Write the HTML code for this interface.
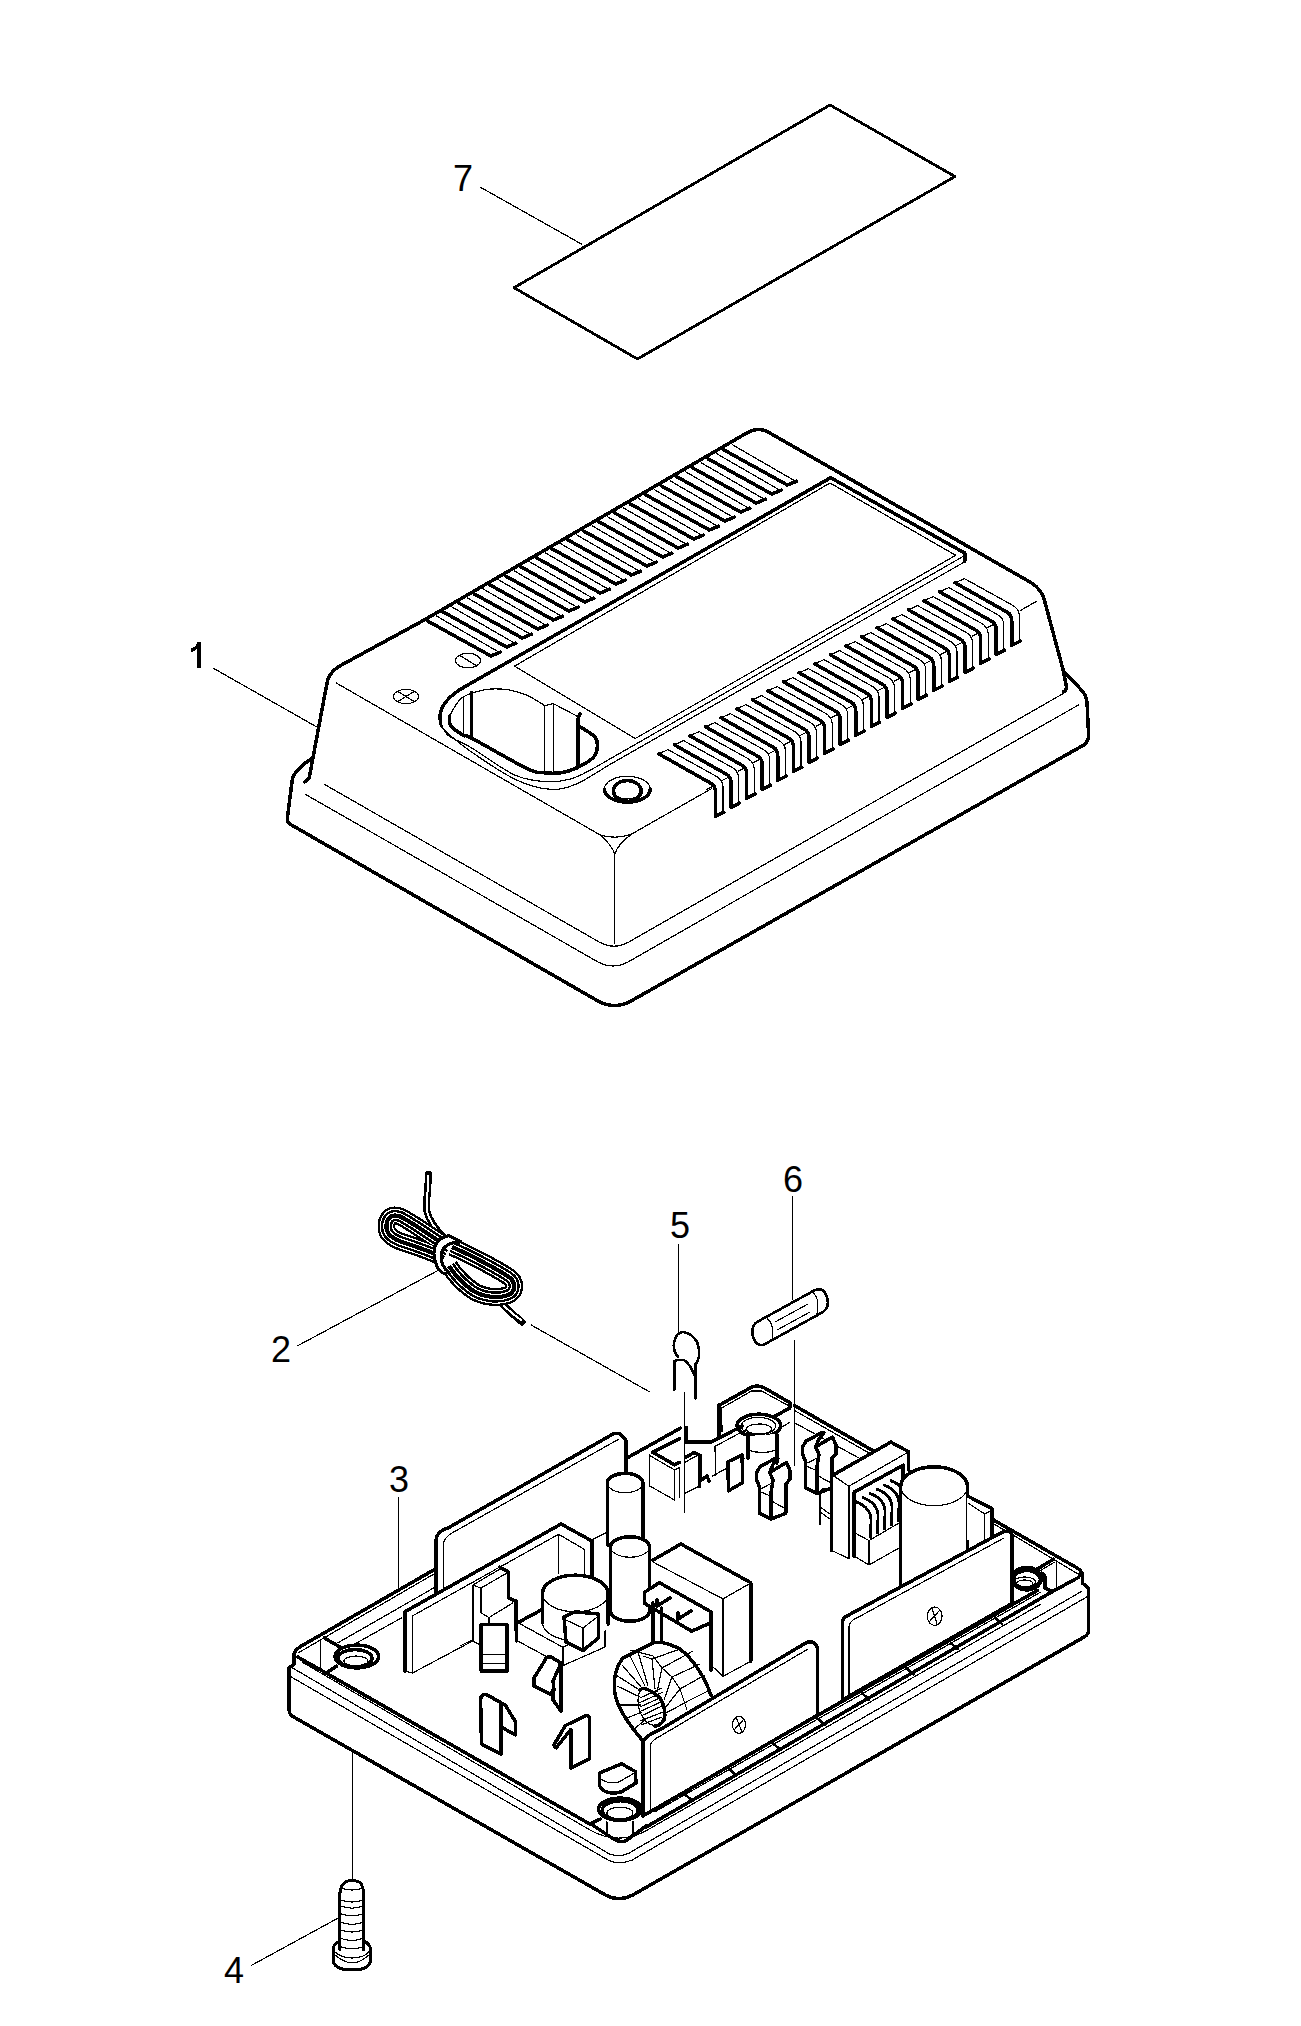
<!DOCTYPE html>
<html><head><meta charset="utf-8"><style>
html,body{margin:0;padding:0;background:#fff;}
svg{display:block;}
text{font-family:"Liberation Sans",sans-serif;fill:#000;stroke:none;}
</style></head><body>
<svg width="1301" height="2026" viewBox="0 0 1301 2026" stroke="#000" stroke-linecap="round" stroke-linejoin="round" shape-rendering="crispEdges">
<path d="M830,105 L955,176.5 L637.5,359 L514,287.7 Z" stroke-width="2.8" fill="none" stroke-linejoin="round"/>
<text x="453" y="191" font-size="36">7</text>
<line x1="480.0" y1="187.0" x2="581.4" y2="244.0" stroke-width="1.2"/>
<path d="M425.6,619.2 L339.2,666.3 Q328,673 326.7,684.6 L309.2,778 L304.6,782" stroke-width="3.5" fill="none" />
<path d="M425.6,619.2 L747.6,432.5 Q759,426 770.7,433.5 L1031,582.6 Q1041,589 1044,598.7 L1062.8,668.7 L1066.5,687 Q1066,691 1063.3,691.9" stroke-width="3.5" fill="none" />
<path d="M311,759 Q297,768 292.5,778 L287.3,818.4 Q287,823 292,825.3 L598,1001 Q614.7,1010 631,1001 L1083.8,745 Q1088.6,741 1088.6,735 L1087,702 Q1086,695 1081.6,690.2 L1063.3,670.9" stroke-width="3.5" fill="none" />
<path d="M324.2,784.2 L600,942.5 Q614,950 628,942.5 L1063.3,693.5" stroke-width="1.2" fill="none" />
<path d="M305.2,794.2 L598,962 Q613.3,970 628,962 L1078.4,705" stroke-width="1.2" fill="none" />
<path d="M336.3,683 L599.7,834.7 Q615.7,840 631.7,834 L711.6,788.6" stroke-width="1.2" fill="none" />
<line x1="1020.3" y1="610.6" x2="1037.0" y2="601.0" stroke-width="1.2"/>
<path d="M599.7,834.7 Q612,845 614.8,854.4 Q617,845 631.7,834" stroke-width="1.2" fill="none" />
<line x1="614.6" y1="854.0" x2="614.6" y2="943.5" stroke-width="1.2"/>
<line x1="213.8" y1="668.5" x2="316.3" y2="726.7" stroke-width="1.2"/>
<path d="M197.3,642.4 L200.9,642.4 L200.9,667.9 L197.3,667.9 L197.3,648.5 Q195,651.5 190.9,652.3 L190.9,648.6 Q195.5,647.5 197.3,642.4 Z" fill="#000" stroke="none"/>
<ellipse cx="406.0" cy="696.5" rx="12.7" ry="7.1" stroke-width="1.2" fill="none"/>
<line x1="397.0" y1="691.0" x2="415.0" y2="702.0" stroke-width="1.2"/>
<line x1="397.0" y1="702.0" x2="415.0" y2="691.0" stroke-width="1.2"/>
<ellipse cx="468.0" cy="660.6" rx="12.5" ry="7.3" stroke-width="1.2" fill="none"/>
<line x1="459.0" y1="655.0" x2="477.0" y2="666.0" stroke-width="1.2"/>
<path d="M427.4,620.9 L491.0,656.0 L500.3,652.2" stroke-width="3.5" fill="none" />
<line x1="436.1" y1="615.8" x2="497.5" y2="651.3" stroke-width="1.2"/>
<path d="M443.0,611.9 L506.6,647.0 L515.9,643.2" stroke-width="3.5" fill="none" />
<line x1="451.7" y1="606.8" x2="513.1" y2="642.3" stroke-width="1.2"/>
<path d="M458.6,602.9 L522.2,638.0 L531.5,634.2" stroke-width="3.5" fill="none" />
<line x1="467.3" y1="597.8" x2="528.7" y2="633.3" stroke-width="1.2"/>
<path d="M474.2,593.9 L537.8,629.0 L547.1,625.2" stroke-width="3.5" fill="none" />
<line x1="482.9" y1="588.8" x2="544.3" y2="624.3" stroke-width="1.2"/>
<path d="M489.8,584.9 L553.4,620.0 L562.7,616.2" stroke-width="3.5" fill="none" />
<line x1="498.5" y1="579.8" x2="559.9" y2="615.3" stroke-width="1.2"/>
<path d="M505.4,575.9 L569.0,611.0 L578.3,607.2" stroke-width="3.5" fill="none" />
<line x1="514.1" y1="570.8" x2="575.5" y2="606.3" stroke-width="1.2"/>
<path d="M521.0,566.9 L584.6,602.0 L593.9,598.2" stroke-width="3.5" fill="none" />
<line x1="529.7" y1="561.8" x2="591.1" y2="597.3" stroke-width="1.2"/>
<path d="M536.6,557.9 L600.2,593.0 L609.5,589.2" stroke-width="3.5" fill="none" />
<line x1="545.3" y1="552.8" x2="606.7" y2="588.3" stroke-width="1.2"/>
<path d="M552.2,548.9 L615.8,584.0 L625.1,580.2" stroke-width="3.5" fill="none" />
<line x1="560.9" y1="543.8" x2="622.3" y2="579.3" stroke-width="1.2"/>
<path d="M567.8,539.9 L631.4,575.0 L640.7,571.2" stroke-width="3.5" fill="none" />
<line x1="576.5" y1="534.8" x2="637.9" y2="570.3" stroke-width="1.2"/>
<path d="M583.4,530.9 L647.0,566.0 L656.3,562.2" stroke-width="3.5" fill="none" />
<line x1="592.1" y1="525.8" x2="653.5" y2="561.3" stroke-width="1.2"/>
<path d="M599.0,521.9 L662.6,557.0 L671.9,553.2" stroke-width="3.5" fill="none" />
<line x1="607.7" y1="516.8" x2="669.1" y2="552.3" stroke-width="1.2"/>
<path d="M614.6,512.9 L678.2,548.0 L687.5,544.2" stroke-width="3.5" fill="none" />
<line x1="623.3" y1="507.8" x2="684.7" y2="543.3" stroke-width="1.2"/>
<path d="M630.2,503.9 L693.8,539.0 L703.1,535.2" stroke-width="3.5" fill="none" />
<line x1="638.9" y1="498.8" x2="700.3" y2="534.3" stroke-width="1.2"/>
<path d="M645.8,494.9 L709.4,530.0 L718.7,526.2" stroke-width="3.5" fill="none" />
<line x1="654.5" y1="489.8" x2="715.9" y2="525.3" stroke-width="1.2"/>
<path d="M661.4,485.9 L725.0,521.0 L734.3,517.2" stroke-width="3.5" fill="none" />
<line x1="670.1" y1="480.8" x2="731.5" y2="516.3" stroke-width="1.2"/>
<path d="M677.0,476.9 L740.6,512.0 L749.9,508.2" stroke-width="3.5" fill="none" />
<line x1="685.7" y1="471.8" x2="747.1" y2="507.3" stroke-width="1.2"/>
<path d="M692.6,467.9 L756.2,503.0 L765.5,499.2" stroke-width="3.5" fill="none" />
<line x1="701.3" y1="462.8" x2="762.7" y2="498.3" stroke-width="1.2"/>
<path d="M708.2,458.9 L771.8,494.0 L781.1,490.2" stroke-width="3.5" fill="none" />
<line x1="716.9" y1="453.8" x2="778.3" y2="489.3" stroke-width="1.2"/>
<path d="M723.8,449.9 L787.4,485.0 L796.7,481.2" stroke-width="3.5" fill="none" />
<line x1="732.5" y1="444.8" x2="793.9" y2="480.3" stroke-width="1.2"/>
<path d="M955.1,582.8 L1007.5,612.4 Q1011.8,614.8 1011.8,620.9 L1011.8,645.4 L1020.2,641.2" stroke-width="3.5" fill="none" />
<line x1="955.1" y1="582.8" x2="964.4" y2="578.6" stroke-width="1.2"/>
<path d="M964.4,578.6 L1011.8,604.8 Q1019.4,608.8 1019.4,615.8 L1019.4,641.2" stroke-width="1.2" fill="none" />
<path d="M939.5,591.8 L991.9,621.4 Q996.2,623.8 996.2,629.9 L996.2,654.4 L1004.6,650.2" stroke-width="3.5" fill="none" />
<line x1="939.5" y1="591.8" x2="948.8" y2="587.6" stroke-width="1.2"/>
<line x1="987.7" y1="627.3" x2="994.4" y2="624.0" stroke-width="1.2"/>
<path d="M948.8,587.6 L996.2,613.8 Q1003.8,617.8 1003.8,624.8 L1003.8,650.2" stroke-width="1.2" fill="none" />
<path d="M923.9,600.8 L976.3,630.4 Q980.6,632.8 980.6,638.9 L980.6,663.4 L989.0,659.2" stroke-width="3.5" fill="none" />
<line x1="923.9" y1="600.8" x2="933.2" y2="596.6" stroke-width="1.2"/>
<line x1="972.1" y1="636.3" x2="978.8" y2="633.0" stroke-width="1.2"/>
<path d="M933.2,596.6 L980.6,622.8 Q988.2,626.8 988.2,633.8 L988.2,659.2" stroke-width="1.2" fill="none" />
<path d="M908.3,609.8 L960.7,639.4 Q965.0,641.8 965.0,647.9 L965.0,672.4 L973.4,668.2" stroke-width="3.5" fill="none" />
<line x1="908.3" y1="609.8" x2="917.6" y2="605.6" stroke-width="1.2"/>
<line x1="956.5" y1="645.3" x2="963.2" y2="642.0" stroke-width="1.2"/>
<path d="M917.6,605.6 L965.0,631.8 Q972.6,635.8 972.6,642.8 L972.6,668.2" stroke-width="1.2" fill="none" />
<path d="M892.7,618.8 L945.1,648.4 Q949.4,650.8 949.4,656.9 L949.4,681.4 L957.8,677.2" stroke-width="3.5" fill="none" />
<line x1="892.7" y1="618.8" x2="902.0" y2="614.6" stroke-width="1.2"/>
<line x1="940.9" y1="654.3" x2="947.6" y2="651.0" stroke-width="1.2"/>
<path d="M902.0,614.6 L949.4,640.8 Q957.0,644.8 957.0,651.8 L957.0,677.2" stroke-width="1.2" fill="none" />
<path d="M877.1,627.8 L929.5,657.4 Q933.8,659.8 933.8,665.9 L933.8,690.4 L942.2,686.2" stroke-width="3.5" fill="none" />
<line x1="877.1" y1="627.8" x2="886.4" y2="623.6" stroke-width="1.2"/>
<line x1="925.3" y1="663.3" x2="932.0" y2="660.0" stroke-width="1.2"/>
<path d="M886.4,623.6 L933.8,649.8 Q941.4,653.8 941.4,660.8 L941.4,686.2" stroke-width="1.2" fill="none" />
<path d="M861.5,636.8 L913.9,666.4 Q918.2,668.8 918.2,674.9 L918.2,699.4 L926.6,695.2" stroke-width="3.5" fill="none" />
<line x1="861.5" y1="636.8" x2="870.8" y2="632.6" stroke-width="1.2"/>
<line x1="909.7" y1="672.3" x2="916.4" y2="669.0" stroke-width="1.2"/>
<path d="M870.8,632.6 L918.2,658.8 Q925.8,662.8 925.8,669.8 L925.8,695.2" stroke-width="1.2" fill="none" />
<path d="M845.9,645.8 L898.3,675.4 Q902.6,677.8 902.6,683.9 L902.6,708.4 L911.0,704.2" stroke-width="3.5" fill="none" />
<line x1="845.9" y1="645.8" x2="855.2" y2="641.6" stroke-width="1.2"/>
<line x1="894.1" y1="681.3" x2="900.8" y2="678.0" stroke-width="1.2"/>
<path d="M855.2,641.6 L902.6,667.8 Q910.2,671.8 910.2,678.8 L910.2,704.2" stroke-width="1.2" fill="none" />
<path d="M830.3,654.8 L882.7,684.4 Q887.0,686.8 887.0,692.9 L887.0,717.4 L895.4,713.2" stroke-width="3.5" fill="none" />
<line x1="830.3" y1="654.8" x2="839.6" y2="650.6" stroke-width="1.2"/>
<line x1="878.5" y1="690.3" x2="885.2" y2="687.0" stroke-width="1.2"/>
<path d="M839.6,650.6 L887.0,676.8 Q894.6,680.8 894.6,687.8 L894.6,713.2" stroke-width="1.2" fill="none" />
<path d="M814.7,663.8 L867.1,693.4 Q871.4,695.8 871.4,701.9 L871.4,726.4 L879.8,722.2" stroke-width="3.5" fill="none" />
<line x1="814.7" y1="663.8" x2="824.0" y2="659.6" stroke-width="1.2"/>
<line x1="862.9" y1="699.3" x2="869.6" y2="696.0" stroke-width="1.2"/>
<path d="M824.0,659.6 L871.4,685.8 Q879.0,689.8 879.0,696.8 L879.0,722.2" stroke-width="1.2" fill="none" />
<path d="M799.1,672.8 L851.5,702.4 Q855.8,704.8 855.8,710.9 L855.8,735.4 L864.2,731.2" stroke-width="3.5" fill="none" />
<line x1="799.1" y1="672.8" x2="808.4" y2="668.6" stroke-width="1.2"/>
<line x1="847.3" y1="708.3" x2="854.0" y2="705.0" stroke-width="1.2"/>
<path d="M808.4,668.6 L855.8,694.8 Q863.4,698.8 863.4,705.8 L863.4,731.2" stroke-width="1.2" fill="none" />
<path d="M783.5,681.8 L835.9,711.4 Q840.2,713.8 840.2,719.9 L840.2,744.4 L848.6,740.2" stroke-width="3.5" fill="none" />
<line x1="783.5" y1="681.8" x2="792.8" y2="677.6" stroke-width="1.2"/>
<line x1="831.7" y1="717.3" x2="838.4" y2="714.0" stroke-width="1.2"/>
<path d="M792.8,677.6 L840.2,703.8 Q847.8,707.8 847.8,714.8 L847.8,740.2" stroke-width="1.2" fill="none" />
<path d="M767.9,690.8 L820.3,720.4 Q824.6,722.8 824.6,728.9 L824.6,753.4 L833.0,749.2" stroke-width="3.5" fill="none" />
<line x1="767.9" y1="690.8" x2="777.2" y2="686.6" stroke-width="1.2"/>
<line x1="816.1" y1="726.3" x2="822.8" y2="723.0" stroke-width="1.2"/>
<path d="M777.2,686.6 L824.6,712.8 Q832.2,716.8 832.2,723.8 L832.2,749.2" stroke-width="1.2" fill="none" />
<path d="M752.3,699.8 L804.7,729.4 Q809.0,731.8 809.0,737.9 L809.0,762.4 L817.4,758.2" stroke-width="3.5" fill="none" />
<line x1="752.3" y1="699.8" x2="761.6" y2="695.6" stroke-width="1.2"/>
<line x1="800.5" y1="735.3" x2="807.2" y2="732.0" stroke-width="1.2"/>
<path d="M761.6,695.6 L809.0,721.8 Q816.6,725.8 816.6,732.8 L816.6,758.2" stroke-width="1.2" fill="none" />
<path d="M736.7,708.8 L789.1,738.4 Q793.4,740.8 793.4,746.9 L793.4,771.4 L801.8,767.2" stroke-width="3.5" fill="none" />
<line x1="736.7" y1="708.8" x2="746.0" y2="704.6" stroke-width="1.2"/>
<line x1="784.9" y1="744.3" x2="791.6" y2="741.0" stroke-width="1.2"/>
<path d="M746.0,704.6 L793.4,730.8 Q801.0,734.8 801.0,741.8 L801.0,767.2" stroke-width="1.2" fill="none" />
<path d="M721.1,717.8 L773.5,747.4 Q777.8,749.8 777.8,755.9 L777.8,780.4 L786.2,776.2" stroke-width="3.5" fill="none" />
<line x1="721.1" y1="717.8" x2="730.4" y2="713.6" stroke-width="1.2"/>
<line x1="769.3" y1="753.3" x2="776.0" y2="750.0" stroke-width="1.2"/>
<path d="M730.4,713.6 L777.8,739.8 Q785.4,743.8 785.4,750.8 L785.4,776.2" stroke-width="1.2" fill="none" />
<path d="M705.5,726.8 L757.9,756.4 Q762.2,758.8 762.2,764.9 L762.2,789.4 L770.6,785.2" stroke-width="3.5" fill="none" />
<line x1="705.5" y1="726.8" x2="714.8" y2="722.6" stroke-width="1.2"/>
<line x1="753.7" y1="762.3" x2="760.4" y2="759.0" stroke-width="1.2"/>
<path d="M714.8,722.6 L762.2,748.8 Q769.8,752.8 769.8,759.8 L769.8,785.2" stroke-width="1.2" fill="none" />
<path d="M689.9,735.8 L742.3,765.4 Q746.6,767.8 746.6,773.9 L746.6,798.4 L755.0,794.2" stroke-width="3.5" fill="none" />
<line x1="689.9" y1="735.8" x2="699.2" y2="731.6" stroke-width="1.2"/>
<line x1="738.1" y1="771.3" x2="744.8" y2="768.0" stroke-width="1.2"/>
<path d="M699.2,731.6 L746.6,757.8 Q754.2,761.8 754.2,768.8 L754.2,794.2" stroke-width="1.2" fill="none" />
<path d="M674.3,744.8 L726.7,774.4 Q731.0,776.8 731.0,782.9 L731.0,807.4 L739.4,803.2" stroke-width="3.5" fill="none" />
<line x1="674.3" y1="744.8" x2="683.6" y2="740.6" stroke-width="1.2"/>
<line x1="722.5" y1="780.3" x2="729.2" y2="777.0" stroke-width="1.2"/>
<path d="M683.6,740.6 L731.0,766.8 Q738.6,770.8 738.6,777.8 L738.6,803.2" stroke-width="1.2" fill="none" />
<path d="M658.7,753.8 L711.1,783.4 Q715.4,785.8 715.4,791.9 L715.4,816.4 L723.8,812.2" stroke-width="3.5" fill="none" />
<line x1="658.7" y1="753.8" x2="668.0" y2="749.6" stroke-width="1.2"/>
<line x1="706.9" y1="789.3" x2="713.6" y2="786.0" stroke-width="1.2"/>
<path d="M668.0,749.6 L715.4,775.8 Q723.0,779.8 723.0,786.8 L723.0,812.2" stroke-width="1.2" fill="none" />
<path d="M830.7,477.7 L964.8,553.1 L964.8,561.2" stroke-width="3.5" fill="none" />
<path d="M514.6,666.1 L830,483 L955.7,555.3 L635.3,738.5 Z" stroke-width="1.2" fill="none" />
<line x1="963.2" y1="556.4" x2="610.0" y2="758.9" stroke-width="1.2"/>
<line x1="964.8" y1="561.8" x2="610.0" y2="764.4" stroke-width="1.2"/>
<path d="M830.7,477.7 L466,686 Q441,700 440,716 L440.6,724" stroke-width="3.5" fill="none" />
<path d="M440.4,721.5 C441.7,723.8 442.8,730.9 448.0,735.3 C453.2,739.7 460.2,741.1 471.5,747.8 C482.8,754.5 502.6,769.9 515.8,775.5 C528.9,781.1 540.2,781.5 550.4,781.7 C560.5,781.9 566.8,780.6 576.7,776.8 C586.6,773.0 604.5,761.9 610.0,758.9" stroke-width="1.2" fill="none" />
<path d="M440.4,722.0 C440.8,723.1 437.3,723.4 442.5,728.4 C447.7,733.4 459.3,743.5 471.5,752.0 C483.7,760.5 502.6,773.4 515.8,779.6 C528.9,785.8 540.2,788.6 550.4,789.3 C560.5,790.0 566.8,787.9 576.7,783.8 C586.6,779.6 604.5,767.6 610.0,764.4" stroke-width="1.2" fill="none" />
<path d="M449.4,716.0 C451.5,713.0 455.8,702.4 461.8,698.0 C467.8,693.6 477.7,691.1 485.3,689.7 C492.9,688.3 500.6,688.8 507.5,689.7 C514.4,690.6 520.6,692.6 526.8,695.2 C533.0,697.9 541.8,703.9 544.8,705.6" stroke-width="1.2" fill="none" />
<path d="M544.8,705.6 L553.1,703.5 L579.4,717.4" stroke-width="1.2" fill="none" />
<path d="M449.4,716.0 C449.6,717.6 448.5,722.5 450.8,725.7 C453.1,728.9 459.8,733.2 463.2,735.3 C466.6,737.4 460.9,732.6 471.5,738.1 C482.1,743.6 514.8,762.7 526.8,768.5 C538.8,774.3 537.6,772.0 543.4,772.7 C549.2,773.4 555.8,773.5 561.4,772.7 C567.0,771.9 571.4,770.4 576.7,767.9 C582.0,765.4 589.8,761.1 593.3,757.5 C596.8,753.9 597.2,749.9 597.4,746.4 C597.6,742.9 597.6,740.1 594.6,736.7 C591.6,733.4 581.9,728.0 579.4,726.3" stroke-width="3.5" fill="none" />
<line x1="471.5" y1="692.5" x2="471.5" y2="738.1" stroke-width="3.5"/>
<line x1="577.8" y1="719.0" x2="577.8" y2="767.9" stroke-width="3.5"/>
<line x1="577.8" y1="719.0" x2="580.0" y2="714.0" stroke-width="3.5"/>
<line x1="463.2" y1="696.6" x2="463.2" y2="732.6" stroke-width="1.2"/>
<line x1="544.6" y1="705.6" x2="544.6" y2="772.0" stroke-width="1.2"/>
<line x1="553.5" y1="703.5" x2="553.5" y2="772.5" stroke-width="1.2"/>
<path d="M604.3,789.2 A23,12.9 0 0 1 650.3,789.2" stroke-width="1.2" fill="none" />
<path d="M604.3,789.2 A23,12.9 0 0 0 650.3,789.2" stroke-width="3.5" fill="none" />
<ellipse cx="627.3" cy="791.0" rx="13.8" ry="10.5" stroke-width="3.5" fill="none"/>
<path d="M615.3,793 A12,6 0 0 0 639.3,793" stroke-width="1.2" fill="none" />
<text x="271" y="1362" font-size="36">2</text>
<line x1="298.0" y1="1345.6" x2="437.5" y2="1270.7" stroke-width="1.2"/>
<line x1="531.0" y1="1324.9" x2="649.4" y2="1391.8" stroke-width="1.2"/>
<text x="389" y="1492" font-size="36">3</text>
<line x1="398.4" y1="1498.0" x2="398.4" y2="1590.0" stroke-width="1.2"/>
<text x="224" y="1983" font-size="36">4</text>
<line x1="251.5" y1="1965.3" x2="339.1" y2="1917.6" stroke-width="1.2"/>
<line x1="352.5" y1="1752.0" x2="352.5" y2="1880.0" stroke-width="1.2"/>
<text x="670" y="1238" font-size="36">5</text>
<line x1="678.1" y1="1244.1" x2="678.1" y2="1333.0" stroke-width="1.2"/>
<line x1="684.5" y1="1393.0" x2="684.5" y2="1512.0" stroke-width="1.2"/>
<text x="783" y="1192" font-size="36">6</text>
<line x1="792.6" y1="1197.0" x2="792.6" y2="1299.0" stroke-width="1.2"/>
<line x1="794.6" y1="1340.8" x2="794.6" y2="1465.0" stroke-width="1.2"/>
<path d="M428.3,1174 L427.8,1190 Q426,1200 426.6,1210 Q430,1225 445,1238" stroke-width="7" fill="none"/>
<path d="M428.3,1176 L427.8,1190 Q426,1200 426.6,1210 Q430,1225 445,1238" stroke-width="2" stroke="#fff" fill="none"/>
<path d="M502,1304 Q510,1312 522,1322" stroke-width="7" fill="none"/>
<path d="M502,1304 Q510,1312 521,1320" stroke-width="2" stroke="#fff" fill="none"/>
<path d="M447,1246 C430,1236 412,1222 400,1216.5 C390,1213 386,1220 386.5,1228 C387,1236 395,1240 405,1243 C420,1248 432,1252 444,1258" stroke-width="18" stroke="#000" fill="none" stroke-linecap="butt"/>
<path d="M452,1247 C475,1257 500,1271 509,1277 C516,1282 516,1292 508,1295 C498,1299 482,1297 472,1290 C462,1283 455,1275 449,1266" stroke-width="18" stroke="#000" fill="none" stroke-linecap="butt"/>
<path d="M447,1246 C430,1236 412,1222 400,1216.5 C390,1213 386,1220 386.5,1228 C387,1236 395,1240 405,1243 C420,1248 432,1252 444,1258" stroke-width="13.4" stroke="#fff" fill="none" stroke-linecap="butt"/>
<path d="M452,1247 C475,1257 500,1271 509,1277 C516,1282 516,1292 508,1295 C498,1299 482,1297 472,1290 C462,1283 455,1275 449,1266" stroke-width="13.4" stroke="#fff" fill="none" stroke-linecap="butt"/>
<path d="M447,1246 C430,1236 412,1222 400,1216.5 C390,1213 386,1220 386.5,1228 C387,1236 395,1240 405,1243 C420,1248 432,1252 444,1258" stroke-width="11.2" stroke="#000" fill="none" stroke-linecap="butt"/>
<path d="M452,1247 C475,1257 500,1271 509,1277 C516,1282 516,1292 508,1295 C498,1299 482,1297 472,1290 C462,1283 455,1275 449,1266" stroke-width="11.2" stroke="#000" fill="none" stroke-linecap="butt"/>
<path d="M447,1246 C430,1236 412,1222 400,1216.5 C390,1213 386,1220 386.5,1228 C387,1236 395,1240 405,1243 C420,1248 432,1252 444,1258" stroke-width="6.4" stroke="#fff" fill="none" stroke-linecap="butt"/>
<path d="M452,1247 C475,1257 500,1271 509,1277 C516,1282 516,1292 508,1295 C498,1299 482,1297 472,1290 C462,1283 455,1275 449,1266" stroke-width="6.4" stroke="#fff" fill="none" stroke-linecap="butt"/>
<path d="M447,1246 C430,1236 412,1222 400,1216.5 C390,1213 386,1220 386.5,1228 C387,1236 395,1240 405,1243 C420,1248 432,1252 444,1258" stroke-width="4.2" stroke="#000" fill="none" stroke-linecap="butt"/>
<path d="M452,1247 C475,1257 500,1271 509,1277 C516,1282 516,1292 508,1295 C498,1299 482,1297 472,1290 C462,1283 455,1275 449,1266" stroke-width="4.2" stroke="#000" fill="none" stroke-linecap="butt"/>
<path d="M448.7,1235.7 Q434,1238.8 434,1253.5 Q435.2,1270.8 445,1273.8 L448.7,1272 Q440.1,1265.8 441.3,1253.5 Q443.8,1242.5 461,1241.9 Z" stroke-width="3.0" fill="#fff" />
<path d="M456.1,1241.3 Q443,1246 442.6,1253 Q441,1263 445,1271" stroke-width="1.1" fill="none" />
<path d="M678.1,1357 Q672,1350 674.4,1341 Q676,1333 682.7,1332 Q692,1333 697,1342 Q700,1350 699,1356 Q698,1362 695.1,1364.3" stroke-width="2.6" fill="none" />
<path d="M674.4,1389.6 L674.4,1361 Q677,1359.3 684,1360 Q690,1364 694.2,1374.4" stroke-width="2.6" fill="none" />
<line x1="695.6" y1="1363.4" x2="695.6" y2="1398.4" stroke-width="2.6"/>
<path d="M757,1322 L815,1290 Q824,1287 827,1297 Q830,1307 823,1312 L765,1344 Q757,1348 753,1337 Q751,1326 757,1322 Z" stroke-width="2.6" fill="none" />
<path d="M767,1318 Q775,1325 772,1341" stroke-width="1.1" fill="none" />
<path d="M812,1292 Q820,1297 817,1314" stroke-width="1.1" fill="none" />
<path d="M775,1322 L808,1304" stroke-width="1.1" fill="none" />
<path d="M777,1330 L810,1312" stroke-width="1.1" fill="none" />
<path d="M339.9,1950 L339.9,1893 Q341,1885 345.3,1882 Q352,1879 360,1882.3 Q363,1886 363.7,1893 L363.7,1950" stroke-width="3.0" fill="none" />
<path d="M339.9,1941 Q333,1944 333,1950 L333,1960 Q334,1970 352,1970 Q370,1970 370.6,1960 L370.6,1950 Q370.6,1944 363.7,1941" stroke-width="3.0" fill="none" />
<path d="M333,1950 Q340,1958 352,1958 Q365,1958 370.6,1950" stroke-width="1.1" fill="none" />
<path d="M335,1955 Q345,1963 352,1963 Q360,1963 369,1955" stroke-width="1.1" fill="none" />
<path d="M341,1888 Q352,1892 363,1888" stroke-width="1.1" fill="none" />
<path d="M341,1900 Q352,1904 363,1900" stroke-width="1.1" fill="none" />
<path d="M341,1906.1 Q352,1910.1 363,1906.1" stroke-width="1.1" fill="none" />
<path d="M341,1913.8 Q352,1917.8 363,1913.8" stroke-width="1.1" fill="none" />
<path d="M341,1922.3 Q352,1926.3 363,1922.3" stroke-width="1.1" fill="none" />
<path d="M341,1930 Q352,1934 363,1930" stroke-width="1.1" fill="none" />
<path d="M341,1938.4 Q352,1942.4 363,1938.4" stroke-width="1.1" fill="none" />
<path d="M341,1946.8 Q352,1950.8 363,1946.8" stroke-width="1.1" fill="none" />
<path d="M433.6,1570 L300,1646.8 Q293.8,1651 293.8,1656 L293.8,1664.6 L289.2,1667.7 L289.2,1710.7 Q289.5,1715 293.8,1717 L606.1,1895.3 Q618.4,1902 632.2,1895.3 L1085,1636.5 Q1088.7,1634 1088.7,1629.1 L1088.7,1588.5 L1082.3,1583 L1082.3,1573.8 Q1081,1570 1077.7,1568.3 L794.7,1405.7" stroke-width="3.5" fill="none" />
<path d="M433.6,1570 L626.7,1458.2 L680.5,1428.1" stroke-width="3.5" fill="none" />
<path d="M291,1667 L609.2,1853.8 Q620,1858 629.2,1853 L1081.4,1591.5" stroke-width="1.2" fill="none" />
<path d="M291.1,1676.9 L609.2,1860.7 Q620,1865 632.2,1860 L1087,1596.8" stroke-width="1.2" fill="none" />
<path d="M297.7,1657 L326,1673 L590.7,1824.6" stroke-width="3.5" fill="none" />
<path d="M590.7,1823.8 L613.8,1839.2 Q620,1843 626,1840.7 L646,1826.1" stroke-width="3.5" fill="none" />
<path d="M644.5,1813.8 L1037.5,1590.4" stroke-width="3.5" fill="none" />
<path d="M302,1662 L590,1830 Q620,1847 650,1828.5 L1040,1604.6" stroke-width="1.2" fill="none" />
<line x1="655.0" y1="1811.7" x2="1040.0" y2="1592.5" stroke-width="1.2"/>
<line x1="646.0" y1="1827.1" x2="1052.5" y2="1591.5" stroke-width="3.5"/>
<line x1="684.9" y1="1794.3" x2="691.9" y2="1800.3" stroke-width="2.6"/>
<line x1="729.2" y1="1769.1" x2="736.2" y2="1775.1" stroke-width="2.6"/>
<line x1="773.5" y1="1743.9" x2="780.5" y2="1749.9" stroke-width="2.6"/>
<line x1="817.8" y1="1718.6" x2="824.8" y2="1724.7" stroke-width="2.6"/>
<line x1="862.1" y1="1693.4" x2="869.1" y2="1699.4" stroke-width="2.6"/>
<line x1="906.4" y1="1668.2" x2="913.4" y2="1674.2" stroke-width="2.6"/>
<line x1="950.7" y1="1643.0" x2="957.7" y2="1649.0" stroke-width="2.6"/>
<line x1="995.0" y1="1617.7" x2="1002.0" y2="1623.8" stroke-width="2.6"/>
<path d="M298,1653 L433.6,1574.2" stroke-width="1.2" fill="none" />
<path d="M338.1,1642.7 L433.6,1588" stroke-width="1.2" fill="none" />
<path d="M354.7,1644 L401.7,1617.8" stroke-width="1.2" fill="none" />
<path d="M794.7,1410.6 L1013,1535 L1078.4,1574.2" stroke-width="1.2" fill="none" />
<path d="M794.7,1422.9 L860,1458.6" stroke-width="1.2" fill="none" />
<ellipse cx="356.8" cy="1656.5" rx="21.8" ry="11.4" stroke-width="3.5" fill="#fff"/>
<ellipse cx="355.0" cy="1658.2" rx="17.0" ry="8.6" stroke-width="3.5" fill="none"/>
<ellipse cx="356.0" cy="1661.0" rx="12.0" ry="5.0" stroke-width="1.2" fill="none"/>
<path d="M325.7,1673.1 L336.7,1666.2 M324.3,1637.9 L339.5,1646.8" stroke-width="3.5" fill="none" />
<line x1="320.8" y1="1641.0" x2="320.8" y2="1669.0" stroke-width="1.2"/>
<ellipse cx="620.0" cy="1809.2" rx="21.5" ry="11.1" stroke-width="3.5" fill="#fff"/>
<ellipse cx="620.2" cy="1810.3" rx="18.0" ry="9.6" stroke-width="3.5" fill="none"/>
<ellipse cx="620.0" cy="1813.0" rx="13.0" ry="5.8" stroke-width="1.2" fill="none"/>
<line x1="606.9" y1="1821.5" x2="606.9" y2="1835.3" stroke-width="1.2"/>
<line x1="633.0" y1="1821.5" x2="633.0" y2="1833.8" stroke-width="1.2"/>
<line x1="590.7" y1="1823.8" x2="600.0" y2="1819.2" stroke-width="3.5"/>
<ellipse cx="1026.7" cy="1578.6" rx="14.5" ry="11.3" stroke-width="3.5" fill="#fff"/>
<ellipse cx="1027.0" cy="1579.5" rx="13.4" ry="9.1" stroke-width="3.5" fill="none"/>
<ellipse cx="1024.6" cy="1582.0" rx="11.0" ry="5.0" stroke-width="1.2" fill="none"/>
<ellipse cx="1024.6" cy="1583.5" rx="8.0" ry="3.5" stroke-width="1.2" fill="none"/>
<path d="M1037.5,1568.9 L1053.6,1559.2" stroke-width="3.5" fill="none" />
<path d="M1041.8,1573.2 L1045,1576.4 L1045,1588.2 L1052.5,1591.5 L1078.4,1577.5 Q1080,1576 1079.4,1574.2" stroke-width="3.5" fill="none" />
<line x1="1056.3" y1="1561.0" x2="1056.3" y2="1589.0" stroke-width="1.2"/>
<path d="M1039.6,1571 L1054,1562.5" stroke-width="1.2" fill="none" />
<path d="M718.4,1436.4 L718.4,1405.7 L750.4,1387.8 Q757.8,1384 765.2,1388.4 L789.8,1402.6 L789.8,1408.1 L773.8,1416.7" stroke-width="3.5" fill="none" />
<path d="M722.1,1432 L721.5,1408.1 L751.7,1390.9 L761.5,1390.9 L788.5,1405.7" stroke-width="1.2" fill="none" />
<ellipse cx="758.8" cy="1425.6" rx="21.8" ry="11.4" stroke-width="3.5" fill="#fff"/>
<ellipse cx="758.4" cy="1426.0" rx="17.2" ry="8.7" stroke-width="1.2" fill="none"/>
<ellipse cx="759.0" cy="1429.0" rx="12.6" ry="5.0" stroke-width="1.2" fill="none"/>
<line x1="748.0" y1="1433.0" x2="748.0" y2="1458.0" stroke-width="3.5"/>
<line x1="776.9" y1="1434.0" x2="776.9" y2="1461.0" stroke-width="3.5"/>
<line x1="780.6" y1="1427.8" x2="789.8" y2="1422.3" stroke-width="1.2"/>
<path d="M436,1600 L436,1540 Q437,1531 448,1528 L613,1434 Q621,1431 626,1441 L626,1500 L436,1600 Z" fill="#fff" stroke="none"/>
<path d="M436,1596 L436,1540 Q437,1531 448,1528 L613,1434 Q621,1431 626,1441 L626,1472" stroke-width="3.5" fill="none" />
<line x1="591.8" y1="1539.9" x2="607.3" y2="1532.0" stroke-width="1.2"/>
<path d="M443.5,1596 L443.5,1543 Q445,1537 452,1533 L619,1439" stroke-width="1.2" fill="none" />
<path d="M404.8,1671 L404.8,1611.8 L561,1524 L592,1541 L592,1600 L412.3,1673.1 Z" fill="#fff" stroke="none"/>
<path d="M404.8,1671 L404.8,1611.8 L561,1524 L592,1541 L592,1600" stroke-width="3.5" fill="none" />
<path d="M404.8,1671 L412.3,1673.1 L473,1640.8" stroke-width="1.2" fill="none" />
<path d="M412.3,1673 L412.3,1616 L558.6,1534.3 L584.5,1549.4 L584.5,1590" stroke-width="1.2" fill="none" />
<line x1="558.6" y1="1534.3" x2="558.6" y2="1573.0" stroke-width="1.2"/>
<path d="M607.3,1483 A17.8,9.7 0 0 1 642.9,1483 L642.9,1545 L607.3,1545 Z" stroke-width="3.5" fill="#fff" />
<path d="M607.3,1483 A17.8,9.7 0 0 0 642.9,1483" stroke-width="1.2" fill="none" />
<path d="M649.2,1454.4 L679.6,1438 L679.6,1495 L674.4,1500 L649.2,1486 Z" fill="#fff" stroke="none"/>
<path d="M649.8,1455 L649.8,1486 L674.5,1500" stroke-width="1.2" fill="none" />
<path d="M652.6,1452.2 L679.6,1438.6 M652.6,1452.2 L674.5,1464.8 L679.6,1462.3" stroke-width="3.5" fill="none" />
<path d="M649.6,1455.5 L674.5,1469.9 L679.6,1467.4 M674.5,1469.9 L674.5,1500 M679.6,1467.4 L679.6,1497" stroke-width="1.2" fill="none" />
<path d="M686.1,1427.4 L686.1,1442.1 L711.3,1442.1 L742,1426.1" stroke-width="3.5" fill="none" />
<path d="M715,1446.4 L715.6,1475.3 M715,1446.4 L745.8,1429.8 M712.6,1476 L745,1458" stroke-width="1.2" fill="none" />
<path d="M686.1,1456.9 L694.1,1452.6 L700.3,1455.7 L699.6,1486.4 M700,1481 L707,1476 L709,1481" stroke-width="3.5" fill="none" />
<path d="M685.5,1462 L698,1455 M685.5,1493 L699.6,1486" stroke-width="1.2" fill="none" />
<line x1="719.3" y1="1404.4" x2="719.3" y2="1436.0" stroke-width="3.5"/>
<path d="M727.9,1461.8 L742.1,1455 L742.7,1482.7 L728.5,1490.7 Z" stroke-width="3.5" fill="#fff" />
<path d="M748,1436 L748,1458 Q762,1463 776.9,1458 L776.9,1434 Z" fill="#fff" stroke="none"/>
<line x1="748.0" y1="1436.0" x2="748.0" y2="1458.0" stroke-width="3.5"/>
<line x1="776.9" y1="1434.0" x2="776.9" y2="1463.0" stroke-width="3.5"/>
<path d="M748,1450 Q762,1455 776.9,1450" stroke-width="1.2" fill="none" />
<path d="M759.5,1513.3 L759.5,1487.0 L756.6,1479.7 L756.6,1472.4 L760.2,1466.6 L776.3,1457.8 L777.8,1458.5 L772.6,1465.1 L769.7,1472.4 L773.0,1480.3 L772.0,1486.3 L771.2,1491.4 L771.2,1519.1 Z" stroke-width="3.5" fill="#fff" />
<path d="M769.7,1472.4 L786.5,1462.5 L790.1,1470.9 L790.1,1479.0 L785.8,1484.1 L785.8,1513.3 L771.2,1519.1 L771.2,1491.4 L772.0,1486.3 L773.0,1480.3 Z" stroke-width="3.5" fill="#fff" />
<path d="M761.7,1488.3 L771.5,1483.3" stroke-width="1.2" fill="none" />
<path d="M761.7,1492.3 L771.2,1496.3" stroke-width="1.2" fill="none" />
<path d="M772.6,1501.6 L785.5,1508.8" stroke-width="1.2" fill="none" />
<path d="M805.5,1487.8 L805.5,1461.5 L802.6,1454.2 L802.6,1446.9 L806.2,1441.1 L822.3,1432.3 L823.8,1433.0 L818.6,1439.6 L815.7,1446.9 L819.0,1454.8 L818.0,1460.8 L817.2,1465.9 L817.2,1493.6 Z" stroke-width="3.5" fill="#fff" />
<path d="M815.7,1446.9 L832.5,1437.0 L836.1,1445.4 L836.1,1453.5 L831.8,1458.6 L831.8,1487.8 L817.2,1493.6 L817.2,1465.9 L818.0,1460.8 L819.0,1454.8 Z" stroke-width="3.5" fill="#fff" />
<path d="M807.7,1462.8 L817.5,1457.8" stroke-width="1.2" fill="none" />
<path d="M807.7,1466.8 L817.2,1470.8" stroke-width="1.2" fill="none" />
<path d="M818.6,1476.1 L831.5,1483.3" stroke-width="1.2" fill="none" />
<path d="M820,1525 L820,1492 Q824,1485 830,1491" stroke-width="1.2" fill="none" />
<line x1="820.0" y1="1507.0" x2="830.0" y2="1514.0" stroke-width="1.2"/>
<line x1="820.0" y1="1512.0" x2="830.0" y2="1519.0" stroke-width="1.2"/>
<path d="M831.4,1476 L890.8,1442.1 L908.6,1451.7 L908.6,1540 L869,1565 L848.9,1558.8 L831.4,1550.2 Z" fill="#fff" stroke="none"/>
<path d="M831.4,1550.2 L831.4,1476 L890.8,1442.1 L908.6,1451.7 L908.6,1470" stroke-width="3.5" fill="none" />
<path d="M833.8,1476 L848.9,1486.2 L907,1452.8 M848.9,1486.2 L848.9,1558.8 M831.4,1550.2 L848.9,1558.8" stroke-width="1.2" fill="none" />
<path d="M854.2,1556.7 L854.2,1492.1 L903.2,1465.2 L903.2,1500" stroke-width="3.5" fill="none" />
<path d="M856.0,1501.8 Q872.0,1508.0 871.0,1522.0 L870.4,1537.3" stroke-width="2.8" fill="none" />
<path d="M863.0,1497.6 Q879.0,1503.8 878.0,1517.8 L877.4,1533.1" stroke-width="2.8" fill="none" />
<path d="M870.0,1493.4 Q886.0,1499.6 885.0,1513.6 L884.4,1528.9" stroke-width="2.8" fill="none" />
<path d="M877.0,1489.2 Q893.0,1495.4 892.0,1509.4 L891.4,1524.7" stroke-width="2.8" fill="none" />
<path d="M884.0,1485.0 Q900.0,1491.2 899.0,1505.2 L898.4,1520.5" stroke-width="2.8" fill="none" />
<path d="M891.0,1480.8 Q907.0,1487.0 906.0,1501.0 L905.4,1516.3" stroke-width="2.8" fill="none" />
<path d="M855.9,1533.5 L869,1540.6 L899,1523 M869,1540.6 L869,1565 M855.9,1557 L869,1565 L899,1548" stroke-width="1.2" fill="none" />
<path d="M900.7,1486.3 A33.4,19.4 0 0 1 967.5,1486.3 L967.5,1600 L900.7,1600 Z" stroke-width="3.5" fill="#fff" />
<path d="M900.7,1486.3 A33.4,19.4 0 0 0 967.5,1486.3" stroke-width="1.2" fill="none" />
<path d="M967.4,1495.9 L992.2,1508.8 L992.2,1536 L967.4,1540 Z" fill="#fff" stroke="none"/>
<path d="M967.4,1495.9 L992.2,1508.8 L992.2,1536" stroke-width="3.5" fill="none" />
<path d="M968,1503 L984.7,1514 L984.7,1540 M984.7,1514 L992.2,1510" stroke-width="1.2" fill="none" />
<path d="M610.6,1547 A19.4,10.2 0 0 1 649.4,1547 L649.4,1611 A19.4,10.2 0 0 1 610.6,1611 Z" stroke-width="3.5" fill="#fff" />
<path d="M610.6,1547 A19.4,10.2 0 0 0 649.4,1547" stroke-width="1.2" fill="none" />
<path d="M472.9,1585 L500,1567.2 L508.6,1572.1 L508.6,1598 L515.3,1601 L516.6,1641 L479.7,1644.7 L472.9,1639.8 Z" fill="#fff" stroke="none"/>
<path d="M500,1567.2 L508.6,1572.1 L508.6,1598 L515.3,1601 L516.6,1641" stroke-width="3.5" fill="none" />
<path d="M472.9,1585 L472.9,1639.8 M472.9,1585 L500,1569 M472.9,1585 L480.9,1588.1 L507.3,1572.8 M480.9,1588.1 L480.9,1612.7 L488.9,1617.6 L512.9,1602.9 M488.9,1617.6 L488.9,1624 M460,1645.9 L471.7,1640.4 L479.7,1644.7" stroke-width="1.2" fill="none" />
<path d="M481.2,1624.7 L507,1624.7 L507,1671 L481.2,1671 Z" stroke-width="3.5" fill="#fff" />
<line x1="481.2" y1="1654.8" x2="507.0" y2="1654.8" stroke-width="1.2"/>
<line x1="481.2" y1="1663.4" x2="507.0" y2="1663.4" stroke-width="1.2"/>
<path d="M517.8,1622.6 L545,1608 L605,1628 L605,1647 L563,1665.6 L517.8,1641 Z" stroke-width="1.2" fill="#fff" />
<path d="M516.7,1601 L516.7,1639.8 M517.8,1622.6 L545,1608" stroke-width="3.5" fill="none" />
<path d="M517.8,1622.6 L563,1647.3 L605,1628 M563,1647.3 L563,1665.6" stroke-width="1.2" fill="none" />
<path d="M542.5,1593.5 A32.8,18.3 0 0 1 608.1,1593.5 L608.1,1623 A32.8,18 0 0 1 542.5,1623 Z" fill="#fff" stroke="none"/>
<path d="M542.5,1623 L542.5,1593.5 A32.8,18.3 0 0 1 608.1,1593.5 L608.1,1624" stroke-width="3.5" fill="none" />
<path d="M542.5,1593.5 A32.8,18.3 0 0 0 608.1,1593.5" stroke-width="1.2" fill="none" />
<path d="M542.5,1622.6 A32.8,18 0 0 0 575,1640.6" stroke-width="1.2" fill="none" />
<path d="M564,1617 L575,1611.8 L598.5,1614 L598.5,1638 L583,1650.5 L566,1642 Z" stroke-width="3.5" fill="#fff" />
<path d="M566,1620 L583,1628 L598.5,1616 M583,1628 L583,1650.5" stroke-width="1.2" fill="none" />
<path d="M652.9,1560.1 L680.9,1544 L750.8,1582.7 L750.8,1661.3 L722.9,1676.4 L652.9,1640 Z" fill="#fff" stroke="none"/>
<path d="M652.9,1560.1 L680.9,1544 L750.8,1582.7 L750.8,1661.3" stroke-width="3.5" fill="none" />
<path d="M711,1665 L722.9,1676.4 L750.8,1661.3" stroke-width="1.2" fill="none" />
<path d="M653,1562 L722.9,1598.9 L749,1584 M722.9,1598.9 L722.9,1676.4" stroke-width="1.2" fill="none" />
<path d="M644.3,1592.4 L659.4,1582.7 L711,1611.8 L711,1622.6 L691.7,1631.2 L644.3,1603.2 Z" stroke-width="3.5" fill="#fff" />
<path d="M657,1600 L657,1606 L670,1598 M678,1613 L678,1619 L691,1611" stroke-width="3.5" fill="none" />
<line x1="652.9" y1="1603.0" x2="652.9" y2="1642.0" stroke-width="3.5"/>
<line x1="661.5" y1="1608.0" x2="661.5" y2="1642.0" stroke-width="3.5"/>
<line x1="711.0" y1="1622.0" x2="711.0" y2="1670.0" stroke-width="3.5"/>
<path d="M643,1741 Q618,1712 615,1694 Q612,1672 623,1658 L653,1643 Q662,1640 680,1649 Q700,1665 711,1695 L650,1733 Q645,1737 643,1741 Z" fill="#fff" stroke="none"/>
<path d="M643,1741 Q618,1712 615,1694 Q612,1672 623,1658 L653,1643 Q662,1640 680,1649 Q700,1665 711,1695" stroke-width="3.5" fill="none" />
<ellipse cx="652" cy="1707" rx="12.5" ry="20" transform="rotate(-25 652 1707)" fill="#fff" stroke="none"/>
<path d="M640,1690 Q645,1685 660,1698 Q667,1710 664,1720 Q660,1726 655,1726" stroke-width="3.5" fill="none" />
<path d="M640,1690 Q636,1700 640,1712 Q645,1724 655,1726" stroke-width="1.2" fill="none" />
<line x1="640.0" y1="1698.0" x2="662.0" y2="1688.0" stroke-width="1.2"/>
<line x1="640.0" y1="1702.5" x2="662.0" y2="1692.5" stroke-width="1.2"/>
<line x1="640.0" y1="1707.0" x2="662.0" y2="1697.0" stroke-width="1.2"/>
<line x1="640.0" y1="1711.5" x2="662.0" y2="1701.5" stroke-width="1.2"/>
<line x1="641.0" y1="1716.0" x2="662.0" y2="1706.0" stroke-width="1.2"/>
<line x1="641.0" y1="1720.5" x2="662.0" y2="1712.5" stroke-width="1.2"/>
<line x1="641.0" y1="1725.0" x2="662.0" y2="1717.0" stroke-width="1.2"/>
<line x1="616.0" y1="1675.0" x2="641.0" y2="1691.0" stroke-width="1.2"/>
<line x1="617.0" y1="1686.0" x2="640.0" y2="1697.0" stroke-width="1.2"/>
<line x1="620.0" y1="1705.0" x2="641.0" y2="1705.0" stroke-width="1.2"/>
<line x1="627.0" y1="1718.0" x2="642.0" y2="1712.0" stroke-width="1.2"/>
<line x1="633.0" y1="1730.0" x2="646.0" y2="1719.0" stroke-width="1.2"/>
<line x1="622.0" y1="1665.0" x2="642.0" y2="1688.0" stroke-width="1.2"/>
<line x1="630.0" y1="1656.0" x2="645.0" y2="1686.0" stroke-width="1.2"/>
<line x1="638.0" y1="1652.0" x2="648.0" y2="1686.0" stroke-width="1.2"/>
<line x1="652.0" y1="1659.0" x2="655.0" y2="1689.0" stroke-width="1.2"/>
<line x1="662.0" y1="1668.0" x2="657.0" y2="1692.0" stroke-width="1.2"/>
<line x1="672.0" y1="1677.0" x2="664.0" y2="1700.0" stroke-width="1.2"/>
<line x1="680.0" y1="1689.0" x2="665.0" y2="1708.0" stroke-width="1.2"/>
<line x1="690.0" y1="1700.0" x2="666.0" y2="1713.0" stroke-width="1.2"/>
<line x1="643.0" y1="1656.0" x2="652.0" y2="1659.0" stroke-width="1.2"/>
<line x1="652.0" y1="1659.0" x2="680.0" y2="1649.0" stroke-width="1.2"/>
<line x1="662.0" y1="1668.0" x2="693.0" y2="1651.0" stroke-width="1.2"/>
<line x1="672.0" y1="1677.0" x2="700.0" y2="1664.0" stroke-width="1.2"/>
<line x1="680.0" y1="1689.0" x2="705.0" y2="1675.0" stroke-width="1.2"/>
<line x1="690.0" y1="1700.0" x2="710.0" y2="1690.0" stroke-width="1.2"/>
<path d="M630,1650 L653,1656 L662,1668 L672,1677 L680,1689 L687,1710" stroke-width="1.2" fill="none" />
<path d="M642.9,1816 L642.9,1742 Q645,1736 659.4,1730 L805.7,1643 Q814,1639 817.6,1648.4 L817.6,1715.1 L642.9,1816 Z" stroke-width="3.5" fill="#fff" />
<path d="M650.3,1812 L650.3,1745 Q652,1740 662,1735 L808,1649" stroke-width="1.2" fill="none" />
<ellipse cx="739.0" cy="1724.8" rx="6.5" ry="8.5" stroke-width="1.2" fill="none"/>
<line x1="734.0" y1="1730.0" x2="744.0" y2="1719.0" stroke-width="1.2"/>
<line x1="736.0" y1="1717.0" x2="742.0" y2="1732.0" stroke-width="1.2"/>
<path d="M842.3,1700 L842.3,1622.6 Q843,1618 846.6,1616.1 L1002,1532.3 Q1010,1529 1012.2,1535 L1012.2,1603.3 L842.3,1700 Z" stroke-width="3.5" fill="#fff" />
<path d="M849,1697 L849,1626 Q850,1622 853,1620 L1004,1538" stroke-width="1.2" fill="none" />
<ellipse cx="934.7" cy="1616.2" rx="7.4" ry="9.2" stroke-width="1.2" fill="none"/>
<line x1="929.0" y1="1622.0" x2="940.0" y2="1610.0" stroke-width="1.2"/>
<line x1="932.0" y1="1608.0" x2="937.0" y2="1624.0" stroke-width="1.2"/>
<path d="M599.6,1773 L621.5,1763.8 L635.3,1771.5 L636,1783 L621,1792 Q605,1795.7 599.6,1786 Z" stroke-width="3.5" fill="#fff" />
<path d="M599.6,1778 Q608,1785 619,1782 L636,1772" stroke-width="1.2" fill="none" />
<path d="M480.6,1699.8 Q481,1694 486.1,1694.3 L505.5,1705.3 L515.6,1722 L515.6,1734.9 L501.8,1727.5 L500.9,1754.2 L481.5,1744.1 Z" stroke-width="3.5" fill="#fff" />
<line x1="500.9" y1="1705.3" x2="500.9" y2="1754.0" stroke-width="3.5"/>
<path d="M565.4,1725.6 L585.7,1715.5 Q589.4,1715 589.4,1719.2 L589.4,1758.8 L571,1768.1 L571,1729.3 L556.2,1747.8 Q553,1746 554.4,1744.1 Z" stroke-width="3.5" fill="#fff" />
<path d="M534,1678 L544,1662 Q546,1656 551,1657 L561,1663 L553,1681 L554,1690 L550,1694 L534,1686 Z" stroke-width="3.5" fill="#fff" />
<path d="M553,1690 L553,1700 L561,1711 L561,1663" stroke-width="3.5" fill="none" />
</svg></body></html>
